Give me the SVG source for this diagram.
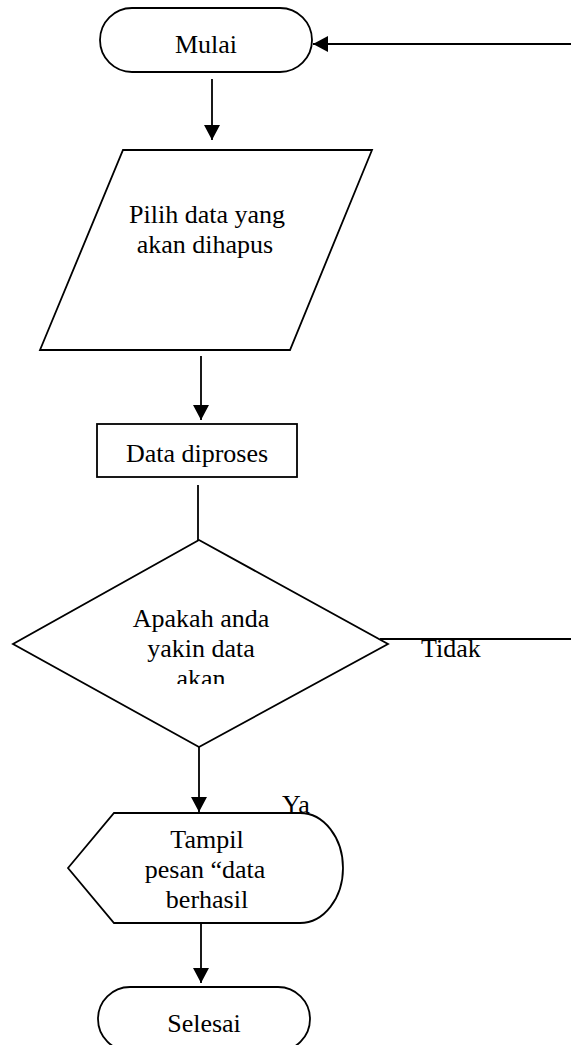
<svg xmlns="http://www.w3.org/2000/svg" width="571" height="1045" viewBox="0 0 571 1045">
  <style>
    .shape { fill: #fff; stroke: #000; stroke-width: 1.8; }
    .line { fill: none; stroke: #000; stroke-width: 1.8; }
    .label { font-family: "Liberation Serif", "Times New Roman", serif; font-size: 26px; fill: #000; text-anchor: middle; }
    .plain { font-family: "Liberation Serif", "Times New Roman", serif; font-size: 26px; fill: #000; }
  </style>
  <defs>
    <marker id="arrow" markerUnits="userSpaceOnUse" markerWidth="16" markerHeight="16" viewBox="0 0 16 16" refX="15" refY="8" orient="auto">
      <path d="M0,0 L15,8 L0,16 Z" fill="#000"/>
    </marker>
    <clipPath id="decisionClip">
      <rect x="0" y="540" width="400" height="144"/>
    </clipPath>
  </defs>
  <rect width="571" height="1045" fill="#fff"/>

  <!-- connectors -->
  <g id="connectors">
    <line class="line" x1="571" y1="44" x2="313" y2="44" marker-end="url(#arrow)"/>
    <line class="line" x1="212" y1="79" x2="212" y2="140" marker-end="url(#arrow)"/>
    <line class="line" x1="201" y1="356" x2="201" y2="420" marker-end="url(#arrow)"/>
    <line class="line" x1="198" y1="485" x2="198" y2="540"/>
    <line class="line" x1="380" y1="639" x2="571" y2="639"/>
    <line class="line" x1="199" y1="747" x2="199" y2="812" marker-end="url(#arrow)"/>
    <line class="line" x1="201" y1="923" x2="201" y2="983" marker-end="url(#arrow)"/>
    <text class="plain" x="421" y="657">Tidak</text>
    <text class="plain" x="282" y="813">Ya</text>
  </g>

  <!-- start -->
  <g id="mulai">
    <rect class="shape" x="100" y="8" width="212" height="64" rx="32" ry="32"/>
    <text class="label" x="206" y="53">Mulai</text>
  </g>

  <!-- input -->
  <g id="pilih-data">
    <polygon class="shape" points="123,150 372,150 290,350 40,350"/>
    <text class="label" x="207" y="223">Pilih data yang</text>
    <text class="label" x="205" y="253">akan dihapus</text>
  </g>

  <!-- process -->
  <g id="data-diproses">
    <rect class="shape" x="97" y="424" width="200" height="53"/>
    <text class="label" x="197" y="462">Data diproses</text>
  </g>

  <!-- decision -->
  <g id="konfirmasi">
    <polygon class="shape" points="199,540 388,644 199,747 13,644"/>
    <g clip-path="url(#decisionClip)">
      <text class="label" x="201" y="627">Apakah anda</text>
      <text class="label" x="201" y="657">yakin data</text>
      <text class="label" x="201" y="687">akan</text>
    </g>
  </g>

  <!-- display -->
  <g id="tampil-pesan">
    <path class="shape" d="M68,868 L114,813 L300,813 A43,55 0 0 1 300,923 L114,923 Z"/>
    <text class="label" x="207" y="848">Tampil</text>
    <text class="label" x="205" y="878">pesan “data</text>
    <text class="label" x="207" y="908">berhasil</text>
  </g>

  <!-- end -->
  <g id="selesai">
    <rect class="shape" x="98" y="987" width="212" height="64" rx="32" ry="32"/>
    <text class="label" x="204" y="1032">Selesai</text>
  </g>
</svg>
